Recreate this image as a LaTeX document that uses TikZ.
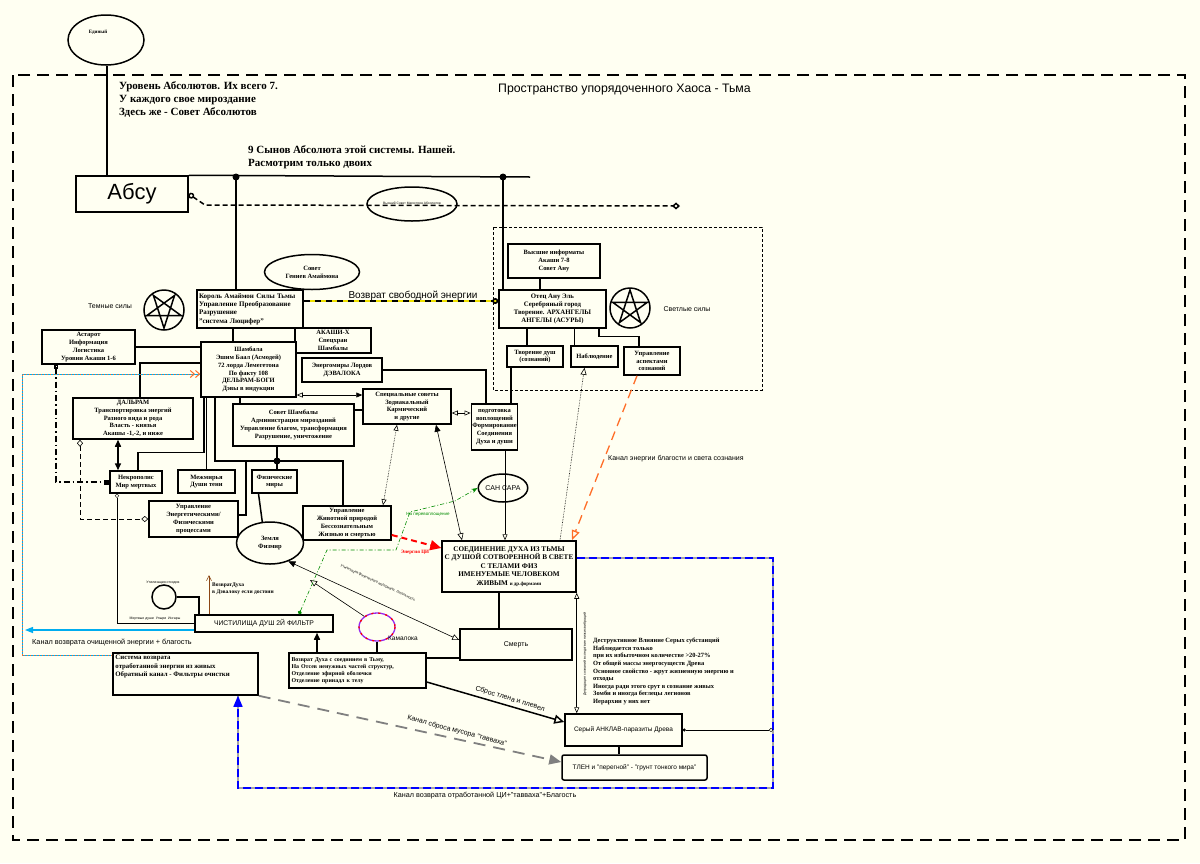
\documentclass[tikz,border=0pt]{standalone}
\usepackage{fontspec}
\setmainfont{Liberation Serif}
\setsansfont{Liberation Sans}
\usetikzlibrary{arrows.meta,shapes.geometric}
\definecolor{paper}{RGB}{255,255,242}
\definecolor{zoloto}{RGB}{240,225,0}
\definecolor{oranzh}{RGB}{255,110,40}
\definecolor{zelen}{RGB}{0,140,0}
\definecolor{kama}{RGB}{150,40,240}
\definecolor{korich}{RGB}{140,70,20}

\begin{document}
\begin{tikzpicture}[x=1pt,y=-1pt,
  every node/.style={align=center,inner sep=1pt},
  wh/.style 2 args={minimum width=#1pt,minimum height=#2pt},
  box/.style={draw,line width=1.5pt,fill=paper,font=\fontsize{6.5}{7.8}\selectfont\bfseries},
  sbox/.style={box,font=\fontsize{7}{8}\selectfont\sffamily},
  oval/.style={draw,ellipse,line width=1.5pt,fill=paper,inner sep=0pt,font=\fontsize{6.5}{7.8}\selectfont\bfseries},
  txt/.style={font=\fontsize{6.5}{7.8}\selectfont\bfseries,inner sep=0pt},
  head/.style={font=\fontsize{11}{13}\selectfont\bfseries,align=left,inner sep=0pt},
  lab/.style={font=\fontsize{6}{7}\selectfont\sffamily,inner sep=0pt},
  tinylab/.style={font=\fontsize{3.5}{4}\selectfont\sffamily,inner sep=0pt},
  line/.style={line width=1.5pt},
  to/.style={-{Triangle[open,length=6pt,width=5pt]},semithick},
  both/.style={{Triangle[open,length=6pt,width=5pt]}-{Triangle[open,length=6pt,width=5pt]},semithick}]

  \fill[paper] (0,0) rectangle (1200,863);
  \useasboundingbox (0,0) rectangle (1200,863);

  % chaos frame and headings
  \draw[line,dash pattern=on 12pt off 7pt] (13,75) rectangle (1185,840);
  \node[font=\fontsize{12.3}{14}\selectfont\sffamily,anchor=west] (chaos) at (497,90) {Пространство упорядоченного Хаоса - Тьма};
  \node[head,anchor=north west] (levels) at (119,81) {Уровень Абсолютов. Их всего 7.\\У каждого свое мироздание\\Здесь же - Совет Абсолютов};
  \node[head,anchor=north west] (sons) at (248,145) {9 Сынов Абсолюта этой системы. Нашей.\\Расмотрим только двоих};

  \node[oval,wh={76}{50}] (one) at (106,40) {};
  \node[txt,font=\fontsize{5}{6}\selectfont\bfseries] (onetxt) at (98,32) {Единый};
  \node[box,wh={112}{36},font=\fontsize{22}{24}\selectfont\sffamily] (absu) at (132,194) {Абсу};
  \draw[line] (one.south -| 107,0) -- (107,176);

  % sons bus
  \coordinate (busend) at (530,177);
  \coordinate (j1) at (236,177);
  \coordinate (j2) at (503,177);
  \draw[line] (absu.north east) -- (busend);
  \fill (j1) circle[radius=3.5] (j2) circle[radius=3.5];
  \node[oval,wh={90}{34},font=\fontsize{3.3}{4}\selectfont\sffamily] (magi) at (412,204) {Высший Совет Магистров Абсолютов};
  \coordinate (magend) at (680,206);
  \draw[line,dash pattern=on 5pt off 3pt,{Circle[open,length=6pt]}-{Diamond[open,length=8pt,width=7pt]}] (absu.east) -- (205,205) -- (magend);

  % light forces
  \draw[semithick,dash pattern=on 3pt off 2pt] (493,227) rectangle (762,390);
  \node[box,wh={92}{34}] (higher) at (554,261) {Высшие информаты\\Акаши 7-8\\Совет Ану};
  \node[box,wh={107}{38},font=\fontsize{6.8}{8}\selectfont\bfseries] (father) at (552.5,309) {Отец Ану Эль\\Серебряный город\\Творение. АРХАНГЕЛЫ\\АНГЕЛЫ (АСУРЫ)};
  \node[box,wh={56}{21}] (souls) at (535,356.5) {Творение душ\\(сознаний)};
  \node[box,wh={47}{21}] (watch) at (594.5,356.5) {Наблюдение};
  \node[box,wh={56}{28}] (aspects) at (652,361) {Управление\\аспектами\\сознаний};
  \draw[line] (j2) -- (j2 |- father.north);
  \draw[line] ([xshift=-14pt]higher.south) -- ([xshift=-14pt]higher.south |- father.north);
  \draw[line] ([xshift=-8pt]souls.north |- father.south) -- ([xshift=-8pt]souls.north);
  \draw[line] ([xshift=-20pt]watch.north |- father.south) -- ([xshift=-20pt]watch.north);
  \draw[line] ([xshift=46.5pt]father.south) |- ([xshift=-13pt,yshift=10pt]aspects.north) -- ([xshift=-13pt]aspects.north);
  \draw[line,shift={(630,308)}] (0,0) circle[radius=20] (-90:18) -- (54:18) -- (198:18) -- (342:18) -- (126:18) -- cycle;
  \node[lab,font=\fontsize{7}{8}\selectfont\sffamily] (lightlbl) at (687,309) {Светлые силы};

  % dark forces
  \draw[line,shift={(164,310)}] (0,0) circle[radius=20] (90:18) -- (234:18) -- (18:18) -- (162:18) -- (306:18) -- cycle;
  \node[lab,font=\fontsize{7}{8}\selectfont\sffamily] (darklbl) at (110,306) {Темные силы};
  \node[oval,wh={95}{35}] (genii) at (312,272) {Совет\\Гениев Амаймона};
  \node[box,wh={106}{38},text width=102pt,align=left,font=\fontsize{7}{8.3}\selectfont\bfseries] (king) at (250,309) {Король Амаймон Силы Тьмы\\Управление Преобразование\\Разрушение\\ "система Люцифер"};
  \draw[line] (j1) -- (j1 |- king.north);
  \draw[zoloto,line width=1.6pt] ([yshift=8pt]king.east) -- ([yshift=8pt]father.west);
  \draw[line width=1.6pt,dash pattern=on 6pt off 5pt,-{Circle[open,length=6pt]}] ([yshift=8pt]king.east) -- ([yshift=8pt]father.west);
  \node[font=\fontsize{10}{12}\selectfont\sffamily,inner sep=0pt] (freeret) at (413,296) {Возврат свободной энергии};

  \node[box,wh={76}{25}] (akashi) at (333,340.5) {АКАШИ-Х\\Спецхран\\Шамбалы};
  \node[box,wh={95}{55}] (shambala) at (248.5,369.5) {Шамбала\\Эшим Баал (Асмодей)\\72 лорда Лемегетона\\По факту 108\\ДЕЛЬРАМ-БОГИ\\Дэвы в индукции};
  \draw[line] ([xshift=-17pt]king.south) -- ([xshift=-17pt]king.south |- shambala.north);
  \node[box,wh={80}{24}] (devaloka) at (342,370) {Энергомиры Лордов\\ДЭВАЛОКА};
  \node[box,wh={93}{34}] (astarot) at (88.5,347) {Астарот\\Информация\\Логистика\\Уровни Акаши 1-6};
  \draw[line] (astarot.east) -- (astarot.east -| shambala.west);
  \node[box,wh={120}{41}] (dalram) at (133,418.5) {ДАЛЬРАМ\\Транспортировка энергий\\Разного вида и рода\\Власть - князья\\Акашы -1,-2, и ниже};
  \draw[line] ([yshift=6.5pt]shambala.west) -| ([xshift=7pt]dalram.north);
  \node[box,wh={52}{22}] (necro) at (136,482) {Некрополис\\Мир мертвых};
  \node[box,wh={57}{23}] (mezh) at (206.5,481.5) {Межмирья\\Души тени};
  \node[box,wh={45}{23}] (phys) at (274.5,481.5) {Физические\\миры};
  \node[box,wh={121}{42}] (council) at (293.5,425) {Совет Шамбалы\\Администрация мирозданий\\Управление благом, трансформация\\Разрушение, уничтожение};
  \node[box,wh={88}{35}] (special) at (407,406.5) {Специальные советы\\Зодиакальный\\Кармический\\и другие};
  \node[box,wh={39}{46}] (prep) at (494.5,427) {подготовка\\воплощений\\Формирование\\Соединения\\Духа и души};
  \node[box,wh={89}{36}] (enproc) at (193.5,519) {Управление\\Энергетическими/\\Физическими\\процессами};
  \node[box,wh={88}{34}] (animal) at (347,523) {Управление\\Животной природой\\Бессознательным\\Жизнью и смертью};
  \node[oval,wh={67}{42}] (earth) at (270,543) {Земля\\Физмир};
  \node[oval,wh={47}{28},font=\fontsize{7}{8}\selectfont\sffamily] (samsara) at (503,488) {САН САРА};

  % shambala tree
  \coordinate (fdot) at (277,461);
  \draw[line] ([xshift=-44.5pt]shambala.south) |- ([xshift=2pt,yshift=18pt]necro.north) -- ([xshift=2pt]necro.north);
  \draw[line] (mezh.north |- shambala.south) -- (mezh.north);
  \draw[line] ([xshift=-33.5pt]shambala.south) |- (fdot) -| ([xshift=-4pt]animal.north);
  \draw[line] ([xshift=-31pt]fdot) |- ([yshift=4pt]enproc.east);
  \draw[line] ([xshift=-8.5pt]shambala.south) -- ([xshift=-8.5pt]shambala.south |- council.north);
  \draw[line] (fdot |- council.south) -- (fdot) -- (fdot |- phys.north);
  \fill (fdot) circle[radius=3.5];
  \draw[line] ([xshift=-16pt]phys.south) -- (earth.110);
  \draw[line] ([yshift=-3.5pt]special.west) -- ([yshift=-3.5pt]special.west -| council.east);
  \draw[semithick,{Triangle[open,length=6pt,width=5pt]}-{Triangle[length=6pt,width=5pt]}] ([yshift=-25.5pt]shambala.east) -- ([yshift=-25.5pt]shambala.east -| special.west);
  \draw[both] ([yshift=-6.5pt]special.east) -- ([yshift=-6.5pt]special.east -| prep.west);
  \draw[line] (devaloka.east) -| ([xshift=-8.5pt]prep.north);
  \draw[line] ([xshift=-24pt]souls.south) -- ([xshift=-24pt]souls.south |- prep.north);

  % left channels
  \draw[line,dash pattern=on 6pt off 3pt on 1.5pt off 3pt,{Square[open,length=4pt,width=4pt]}-{Square[length=5pt,width=5pt]}] ([xshift=-32.5pt]astarot.south) |- (necro.west);
  \draw[semithick,dash pattern=on 5pt off 3pt,{Diamond[open,length=7pt,width=6pt]}-{Diamond[open,length=7pt,width=6pt]}] ([xshift=-53pt]dalram.south) |- (enproc.west);
  \draw[line,{Triangle[length=7pt,width=6pt]}-{Triangle[length=7pt,width=6pt]}] ([xshift=-15pt]dalram.south) -- ([xshift=-15pt]dalram.south |- necro.north);

  % union of spirit and soul
  \node[box,wh={134}{51},font=\fontsize{7.2}{8.6}\selectfont\bfseries] (union) at (509,566.5) {СОЕДИНЕНИЕ ДУХА ИЗ ТЬМЫ\\С ДУШОЙ СОТВОРЕННОЙ В СВЕТЕ\\С ТЕЛАМИ ФИЗ\\ИМЕНУЕМЫЕ ЧЕЛОВЕКОМ\\ЖИВЫМ {\fontsize{5}{6}\selectfont и др.формами}};
  \draw[to] ([xshift=10.5pt]prep.south) -- ([xshift=10.5pt]prep.south |- union.north);
  \draw[semithick,densely dotted,{Triangle[open,length=6pt,width=5pt]}-{Triangle[open,length=6pt,width=5pt]}] ([xshift=-10pt]special.south) -- ([xshift=36pt]animal.north);
  \draw[semithick,{Triangle[length=7pt,width=6pt]}-{Triangle[open,length=7pt,width=6pt]}] ([xshift=29pt]special.south) -- ([xshift=-47pt]union.north);
  \draw[red,line width=2pt,dash pattern=on 6pt off 4pt,-{Triangle[length=11pt,width=10pt]}] ([yshift=-12pt]animal.east) -- ([yshift=18.5pt]union.west);
  \node[txt,text=red,font=\fontsize{5}{6}\selectfont\bfseries] (qi) at (415,552) {Энергия ЦИ};
  \draw[oranzh,line width=1.3pt,dash pattern=on 9pt off 6pt,-{Triangle[open,length=10pt,width=8pt]}] ([xshift=-15pt]aspects.south) -- ([xshift=63pt]union.north);
  \node[lab,font=\fontsize{7}{8}\selectfont\sffamily,anchor=west] (grace) at (608,459) {Канал энергии благости и света сознания};
  \draw[semithick,densely dotted,-{Triangle[open,length=7pt,width=6pt]}] ([xshift=51pt]union.north) -- ([xshift=-10pt]watch.south);

  % death and purgatory
  \node[sbox,wh={112}{31}] (death) at (516,644.5) {Смерть};
  \draw[line] ([xshift=-10pt]union.south) -- ([xshift=-10pt]union.south |- death.north);
  \draw[semithick,{Triangle[length=7pt,width=6pt]}-{Triangle[open,length=7pt,width=6pt]}] (earth.-45) -- ([yshift=4.5pt]death.west);
  \node[tinylab,rotate=-25] (utilfiz) at (378,583) {Утилизация физического материала. Летальность};
  \node[box,wh={137}{35},text width=132pt,align=left,font=\fontsize{5.9}{7.2}\selectfont\bfseries] (spirit) at (357.5,670.5) {Возврат Духа с соединием в Тьму,\\На Отсев ненужных частей структур,\\Отделение эфирной оболочки\\Отделение принадл к телу};
  \draw[line] ([yshift=12.5pt]spirit.east) -- ([yshift=12.5pt]spirit.east -| death.west);
  \node[draw=kama,ellipse,line width=1.3pt,fill=paper,wh={36}{28}] (kamaloka) at (377,627) {};
  \draw[red,line width=1.3pt,dash pattern=on 2pt off 5pt] (kamaloka.center) ellipse[x radius=18,y radius=14];
  \node[lab,font=\fontsize{6.5}{7}\selectfont\sffamily,anchor=west] (kamalbl) at (388,638) {Камалока};
  \draw[line] (kamaloka.south) -- (kamaloka.south |- spirit.north);
  \coordinate (kamtip) at (310,580);
  \draw[semithick,-{Triangle[open,length=7pt,width=6pt]}] (kamaloka.140) -- (kamtip);
  \node[sbox,wh={138}{17},font=\fontsize{6.8}{8}\selectfont\sffamily] (filter) at (264,623.5) {ЧИСТИЛИЩА ДУШ 2Й ФИЛЬТР};
  \draw[zelen,semithick,dash pattern=on 4pt off 2pt on 1pt off 2pt,{Circle[length=4pt]}-{Stealth[length=6pt]}] ([xshift=35pt]filter.north) -- (327,550) -- (396,550) -- (410,512) -- (455,501) -- (samsara.west);
  \node[lab,text=zelen,font=\fontsize{4.5}{5}\selectfont\sffamily] (reinc) at (428,514) {На перевоплощение};
  \draw[line,-{Triangle[length=7pt,width=6pt]}] ([xshift=-40.5pt]spirit.north) -- ([xshift=-40.5pt]spirit.north |- filter.south);
  \coordinate (upret) at (209,575);
  \draw[korich,semithick,-{Straight Barb[length=5pt,width=5pt]}] ([xshift=-55pt]filter.north) -- (upret);
  \node[txt,font=\fontsize{5.5}{7}\selectfont\bfseries,anchor=north west,align=left] (upretlbl) at (212,583) {ВозвратДуха\\в Дэвалоку если достоин};
  \draw[thin,{Circle[open,length=4pt]}-] ([xshift=-19pt]necro.south) |- (filter.west);
  \node[tinylab] (deadlbl) at (155,619) {Мертвые души \ Упыри \ Ингары};
  \node[draw,circle,line width=1.5pt,minimum size=24pt] (util) at (164,597) {};
  \node[tinylab] (utillbl) at (163,583) {Утилизация отходов};
  \draw[line] (util.east) -| ([xshift=-65pt]filter.north);
  \coordinate (cyanend) at (25,630);
  \draw[cyan,line width=1.3pt,-{Triangle[length=8pt,width=6pt]}] ([yshift=-6.5pt]filter.west) -- (cyanend);
  \node[lab,font=\fontsize{7.3}{8}\selectfont\sffamily,anchor=west] (cleanlbl) at (32,643) {Канал возврата очищенной энергии + благость};

  % return system
  \node[box,wh={145}{42}] (sysret) at (185.5,674) {};
  \node[txt,anchor=north west,align=left,font=\fontsize{6.8}{8.5}\selectfont\bfseries] (sysrettxt) at ([xshift=3pt,yshift=-3pt]sysret.north west) {Система возврата\\отработанной энергии из живых\\Обратный канал - Фильтры очистки};
  \coordinate (cyc) at (22,374);
  \draw[cyan,line width=1pt] ([yshift=19pt]sysret.west) -| (cyc) -- (cyc -| shambala.west);
  \draw[oranzh,line width=1pt,dotted,-{Straight Barb[length=4pt,width=7pt]. Straight Barb[length=4pt,width=7pt]}] ([yshift=19pt]sysret.west) -| (cyc) -- (cyc -| shambala.west);

  % grey enclave
  \node[sbox,wh={117}{32},font=\fontsize{6.5}{8}\selectfont\sffamily] (gray) at (623.5,730) {Серый АНКЛАВ-паразиты Древа};
  \node[sbox,wh={145}{25},rounded corners=2pt,font=\fontsize{6.5}{8}\selectfont\sffamily] (tlen) at (634.5,767.5) {ТЛЕН и "перегной" - "грунт тонкого мира"};
  \draw[line] ([xshift=-4.5pt]gray.south) -- ([xshift=-4.5pt]gray.south |- tlen.north);
  \draw[both] (union.south east) -- (union.south east |- gray.north);
  \node[tinylab,rotate=90] (degr) at (585,654) {Деградация сознаний вследствие низких вибраций};
  \node[txt,anchor=north west,align=left,font=\fontsize{6.4}{7.6}\selectfont\bfseries] (destr) at (593,638) {Деструктивное Влияние Серых субстанций\\Наблюдается только\\при их избыточном количестве >20-27\%\\От общей массы энергосуществ Древа\\Основное свойство - жрут жизненную энергию и\\отходы\\Иногда ради этого срут в сознание живых\\Зомби и иногда беглецы легионов\\Иерархии у них нет};

  % blue return channel
  \coordinate (bc1) at (773,558);
  \coordinate (bc2) at (773,788);
  \draw[gray!70,line width=1.5pt] ([yshift=8.5pt]union.east) -- (bc1) -- (bc2) -| ([xshift=52.5pt]sysret.south);
  \draw[blue,line width=1.5pt,dash pattern=on 8pt off 4pt,-{Triangle[length=11pt,width=9pt]}] ([yshift=8.5pt]union.east) -- (bc1) -- (bc2) -| ([xshift=52.5pt]sysret.south);
  \node[lab,font=\fontsize{7.2}{8}\selectfont\sffamily] (bluelbl) at (485,796) {Канал возврата отработанной ЦИ+"тавваха"+Благость};
  \draw[thin,{Circle[length=3pt]}-{Circle[open,length=4pt]}] (gray.east) -- (gray.east -| bc1);

  % dumping channels
  \draw[line,-{Triangle[open,length=10pt,width=9pt]}] ([yshift=-11.5pt]spirit.east) -- ([yshift=8pt]gray.west);
  \node[lab,font=\fontsize{7}{8}\selectfont\sffamily,rotate=-17] (tlenlbl) at (510,699) {Сброс тлена и плевел};
  \draw[gray,line width=1.8pt,dash pattern=on 12pt off 8pt,-{Triangle[length=12pt,width=10pt]}] (sysret.south east) -- ([yshift=5.5pt]tlen.west);
  \node[lab,font=\fontsize{7}{8}\selectfont\sffamily,rotate=-15] (trashlbl) at (457,731) {Канал сброса мусора "тавваха"};
\end{tikzpicture}
\end{document}
